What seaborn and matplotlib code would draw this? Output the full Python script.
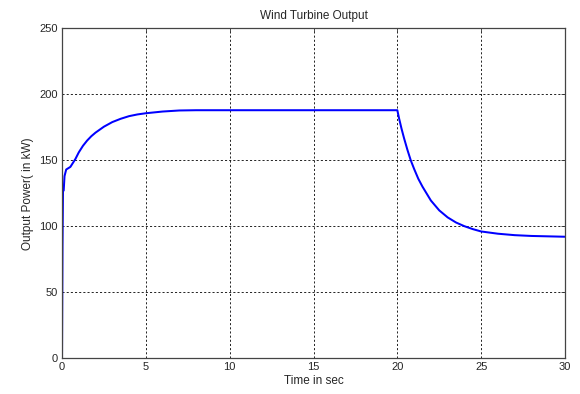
import matplotlib
matplotlib.use("Agg")
import matplotlib.pyplot as plt
import seaborn as sns
import pandas as pd

# Turbine output power over time (kW)
time_s = [0.0, 0.03, 0.06, 0.1, 0.15, 0.25, 0.5, 0.6, 0.8, 1.0, 1.25, 1.5,
          1.75, 2.0, 2.5, 3.0, 3.5, 4.0, 4.5, 5.0, 6.0, 7.0, 8.0, 20.0,
          20.1, 20.25, 20.4, 20.6, 20.8, 21.0, 21.25, 21.5, 22.0, 22.5,
          23.0, 23.5, 24.0, 24.5, 25.0, 26.0, 27.0, 28.0, 30.0]
power_kw = [0.0, 85.0, 127.0, 127.0, 138.0, 143.0, 145.0, 147.0, 151.0, 156.0,
            161.0, 165.0, 168.3, 171.0, 175.5, 179.0, 181.5, 183.5, 184.8,
            185.7, 187.0, 187.8, 188.0, 188.0,
            182.0, 174.0, 166.8, 158.0, 150.0, 143.5, 136.0, 130.0, 119.5,
            112.0, 106.7, 102.8, 100.0, 97.8, 96.0, 94.3, 93.2, 92.6, 92.0]

x_ticks = [0, 5, 10, 15, 20, 25, 30]
y_ticks = [0, 50, 100, 150, 200, 250]

sns.set_style("white")
plt.rcParams["font.family"] = ["Liberation Sans", "DejaVu Sans"]
plt.rcParams["xtick.direction"] = "in"
plt.rcParams["ytick.direction"] = "in"

df = pd.DataFrame({"t": time_s, "p": power_kw})

fig = plt.figure(figsize=(5.8, 3.94), dpi=100)
ax = fig.add_axes([62 / 580, 1 - 358 / 394, (565 - 62) / 580, (358 - 28.5) / 394])

sns.lineplot(data=df, x="t", y="p", ax=ax, color=(0, 0, 1), linewidth=1.45,
             sort=False, estimator=None)

ax.set_xlim(0, 30)
ax.set_ylim(0, 250)
ax.set_xticks(x_ticks)
ax.set_yticks(y_ticks)
ax.tick_params(labelsize=8, length=3, width=0.6, color="#333333", pad=3,
               top=True, right=True)
ax.grid(True, color="black", linestyle=(0, (2.5, 2.5)), linewidth=0.6)

for s in ax.spines.values():
    s.set_color("#444444")
    s.set_linewidth(0.9)

ax.set_title("Wind Turbine Output", fontsize=8.5, pad=7)
ax.set_xlabel("Time in sec", fontsize=8.5, labelpad=2)
ax.set_ylabel("Output Power( in kW)", fontsize=8.5, labelpad=4)

fig.savefig("out.png", dpi=100)
